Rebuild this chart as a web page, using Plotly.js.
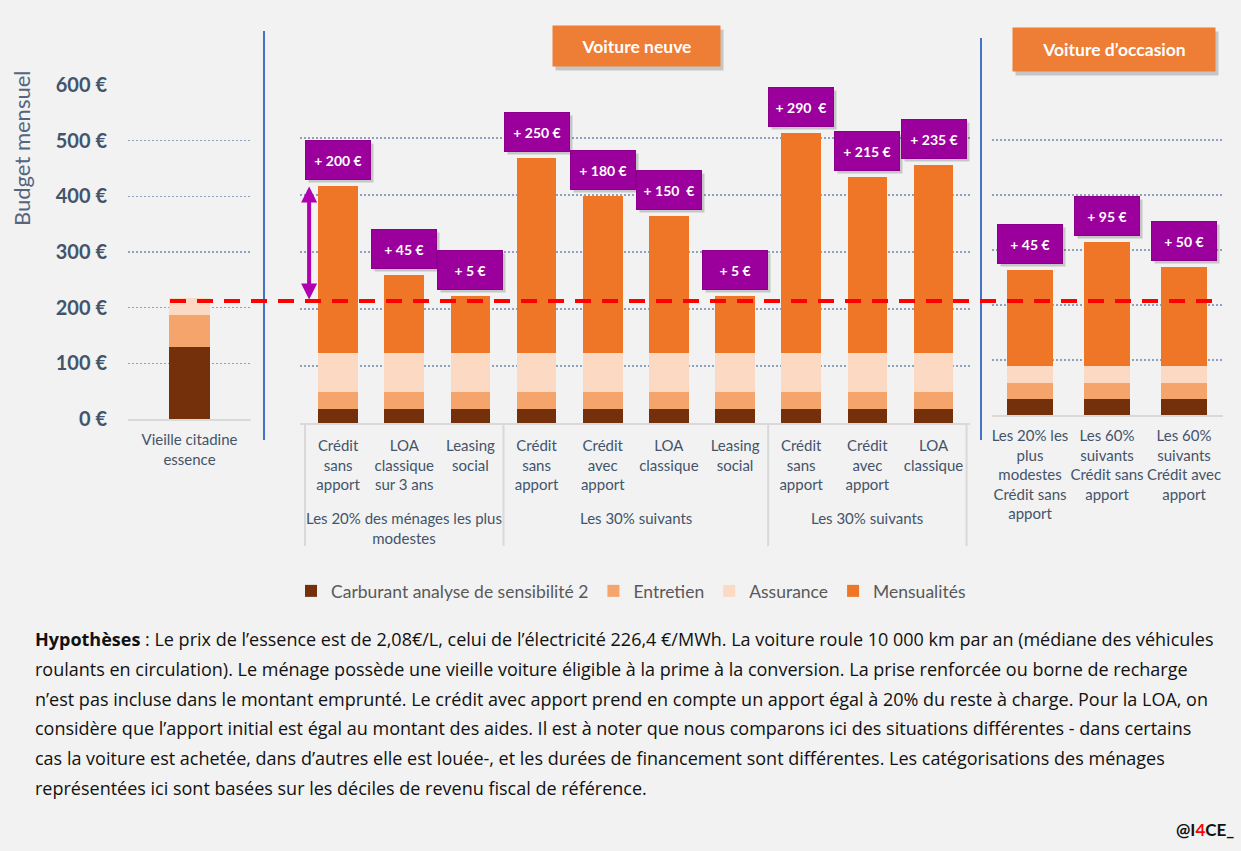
<!DOCTYPE html>
<html>
<head>
<meta charset="utf-8">
<script src="https://cdn.plot.ly/plotly-3.0.1.min.js"></script>
<style>html,body{margin:0;padding:0;background:#f2f2f2;}</style>
</head>
<body>
<div id="chart" style="width:1241px;height:851px;"></div>
<script>
// ---------------- DATA ----------------
const seriesNames = ['Carburant analyse de sensibilité 2', 'Entretien', 'Assurance', 'Mensualités'];

// Panel 1 : old car
const oldCarCategories = ['Vieille citadine<br>essence'];
const oldCarCarburant = [129];
const oldCarEntretien = [57];
const oldCarAssurance = [32];
const oldCarMensualites = [0];

// Panel 2 : new car
const newCarGroupNames = ['Les 20% des ménages les plus<br>modestes', 'Les 30% suivants', 'Les 30% suivants'];
const newCarGroupSizes = [3, 4, 3];
const newCarCategories = [
  'Crédit<br>sans<br>apport', 'LOA<br>classique<br>sur 3 ans', 'Leasing<br>social',
  'Crédit<br>sans<br>apport', 'Crédit<br>avec<br>apport', 'LOA<br>classique', 'Leasing<br>social',
  'Crédit<br>sans<br>apport', 'Crédit<br>avec<br>apport', 'LOA<br>classique'
];
const newCarCarburant = [25, 25, 25, 25, 25, 25, 25, 25, 25, 25];
const newCarEntretien = [30, 30, 30, 30, 30, 30, 30, 30, 30, 30];
const newCarAssurance = [67, 67, 67, 67, 67, 67, 67, 67, 67, 67];
const newCarMensualites = [293, 138, 101, 343, 276, 242, 101, 387, 310, 331];
const newCarGapLabels = ['+ 200 €', '+ 45 €', '+ 5 €', '+ 250 €', '+ 180 €', '+ 150  €', '+ 5 €', '+ 290  €', '+ 215 €', '+ 235 €'];

// Panel 3 : used car
const usedCarCategories = [
  'Les 20% les<br>plus<br>modestes<br>Crédit sans<br>apport',
  'Les 60%<br>suivants<br>Crédit sans<br>apport',
  'Les 60%<br>suivants<br>Crédit avec<br>apport'
];
const usedCarCarburant = [29, 29, 29];
const usedCarEntretien = [29, 29, 29];
const usedCarAssurance = [31, 31, 31];
const usedCarMensualites = [175, 226, 180];
const usedCarGapLabels = ['+ 45 €', '+ 95 €', '+ 50 €'];

const budgetReference = 214;
const yTickValues = [0, 100, 200, 300, 400, 500, 600];
const yTickLabels = ['0 €', '100 €', '200 €', '300 €', '400 €', '500 €', '600 €'];

const headerLabels = ['Voiture neuve', 'Voiture d’occasion'];
const yTitle = 'Budget mensuel';
const hypothesisLines = [
  '<b>Hypothèses</b> : Le prix de l’essence est de 2,08€/L, celui de l’électricité 226,4 €/MWh. La voiture roule 10 000 km par an (médiane des véhicules',
  'roulants en circulation). Le ménage possède une vieille voiture éligible à la prime à la conversion. La prise renforcée ou borne de recharge',
  'n’est pas incluse dans le montant emprunté. Le crédit avec apport prend en compte un apport égal à 20% du reste à charge. Pour la LOA, on',
  'considère que l’apport initial est égal au montant des aides. Il est à noter que nous comparons ici des situations différentes - dans certains',
  'cas la voiture est achetée, dans d’autres elle est louée-, et les durées de financement sont différentes. Les catégorisations des ménages',
  'représentées ici sont basées sur les déciles de revenu fiscal de référence.'
];
const creditText = '<b>@I<span style="color:#ff0000">4</span>CE_</b>';

// ---------------- STYLE ----------------
const FONT = 'Lato, "Open Sans", sans-serif';
const SLATE = '#44546a';
const colors = ['#74300a', '#f5a46c', '#fbd9c2', '#ef7626'];
const purple = '#9c009c';
const W = 1241, H = 851;
const px = v => v / W;
const py = v => 1 - v / H;

// make category labels unique (invisible suffix) so repeated labels stay separate categories
const newCarLabels = newCarCategories.map((c, i) => c + '\u200b'.repeat(i));

const traces = [];
function addPanel(xVals, series, xa, ya, showLeg, width) {
  series.forEach((vals, k) => {
    const t = {
      type: 'bar', x: xVals, y: vals, name: seriesNames[k],
      marker: {color: colors[k]}, xaxis: xa, yaxis: ya,
      legendgroup: 's' + k, showlegend: showLeg, hoverinfo: 'skip'
    };
    if (width) t.width = width;
    traces.push(t);
  });
}
addPanel(oldCarCategories, [oldCarCarburant, oldCarEntretien, oldCarAssurance, oldCarMensualites], 'x', 'y', false, 0.33);
addPanel(newCarLabels, [newCarCarburant, newCarEntretien, newCarAssurance, newCarMensualites], 'x2', 'y2', true, null);
addPanel(usedCarCategories, [usedCarCarburant, usedCarEntretien, usedCarAssurance, usedCarMensualites], 'x3', 'y3', false, null);

const totals = (a, b, c, d) => a.map((v, i) => v + b[i] + c[i] + d[i]);
const newTotals = totals(newCarCarburant, newCarEntretien, newCarAssurance, newCarMensualites);
const usedTotals = totals(usedCarCarburant, usedCarEntretien, usedCarAssurance, usedCarMensualites);

const annotations = [];
const shapes = [];
function callout(xref, yref, i, y, label) {
  annotations.push({xref, yref, x: i, y, xanchor: 'center', yanchor: 'bottom', yshift: 3, xshift: 3, showarrow: false,
    text: '', bgcolor: 'rgba(0,0,0,0.18)', width: 62, height: 36, borderpad: 1});
  annotations.push({xref, yref, x: i, y, xanchor: 'center', yanchor: 'bottom', yshift: 6, showarrow: false,
    text: '<b>' + label + '</b>', bgcolor: purple, bordercolor: '#8a008a', borderwidth: 1,
    font: {family: FONT, size: 14, color: '#ffffff'}, width: 62, height: 36, borderpad: 1});
}
newTotals.forEach((t, i) => callout('x2', 'y2', i, t, newCarGapLabels[i]));
usedTotals.forEach((t, i) => callout('x3', 'y3', i, t, usedCarGapLabels[i]));

// group labels and dividers of the new-car axis
let start = 0;
const dividerLine = {color: '#d9d9d9', width: 2};
shapes.push({type: 'line', xref: 'x2', yref: 'paper', x0: -0.5, x1: -0.5, y0: py(423), y1: py(546), line: dividerLine});
newCarGroupSizes.forEach((n, g) => {
  const end = start + n - 1;
  annotations.push({xref: 'x2', yref: 'paper', x: (start + end) / 2, y: py(507), xanchor: 'center', yanchor: 'top',
    text: newCarGroupNames[g], showarrow: false, font: {family: FONT, size: 15, color: SLATE}});
  shapes.push({type: 'line', xref: 'x2', yref: 'paper', x0: end + 0.5, x1: end + 0.5, y0: py(423), y1: py(546), line: dividerLine});
  start += n;
});

// double arrow from reference to first bar
annotations.push({xref: 'x2', yref: 'y2', axref: 'x2', ayref: 'y2', x: 0, y: newTotals[0], ax: 0, ay: budgetReference,
  xshift: -29, text: '', showarrow: true, arrowside: 'end+start', arrowhead: 2, arrowsize: 0.8,
  arrowwidth: 4, arrowcolor: '#b000b0', standoff: 0, startstandoff: 0});

// headers
const headerBoxes = [[553, 720, 26, 66], [1013, 1215, 28, 71]];
headerLabels.forEach((lab, i) => {
  const b = headerBoxes[i];
  annotations.push({xref: 'paper', yref: 'paper', x: px((b[0] + b[1]) / 2 + 3), y: py((b[2] + b[3]) / 2 + 4),
    xanchor: 'center', yanchor: 'middle',
    text: '', showarrow: false, bgcolor: 'rgba(0,0,0,0.18)', width: b[1] - b[0], height: b[3] - b[2], borderpad: 0});
  annotations.push({xref: 'paper', yref: 'paper', x: px((b[0] + b[1]) / 2), y: py((b[2] + b[3]) / 2),
    xanchor: 'center', yanchor: 'middle',
    text: '<b>' + lab + '</b>', showarrow: false, bgcolor: '#ee7d35', width: b[1] - b[0], height: b[3] - b[2], borderpad: 0,
    font: {family: FONT, size: 17.5, color: '#ffffff'}});
});

// y title
annotations.push({xref: 'paper', yref: 'paper', x: px(22), y: py(149), xanchor: 'center', yanchor: 'middle',
  text: yTitle, textangle: -90, showarrow: false,
  font: {family: FONT, size: 22, color: '#55657e'}});

// hypothesis text
hypothesisLines.forEach((line, i) => {
  annotations.push({xref: 'paper', yref: 'paper', x: px(33), y: py(639 + 29.8 * i), xanchor: 'left', yanchor: 'middle',
    text: line, showarrow: false, align: 'left', font: {family: '"Open Sans", sans-serif', size: 18, color: '#111111'}});
});
annotations.push({xref: 'paper', yref: 'paper', x: px(1236), y: py(829), xanchor: 'right', yanchor: 'middle',
  text: creditText, showarrow: false, font: {family: FONT, size: 17, color: '#111111'}});

shapes.push(
  {type: 'line', xref: 'paper', yref: 'paper', x0: px(264), x1: px(264), y0: py(31), y1: py(440), line: {color: '#4472c4', width: 2}},
  {type: 'line', xref: 'paper', yref: 'paper', x0: px(981), x1: px(981), y0: py(38), y1: py(440), line: {color: '#4472c4', width: 2}},
  {type: 'line', xref: 'paper', yref: 'y2', x0: px(170), x1: px(1222), y0: budgetReference, y1: budgetReference,
    line: {color: '#ff0000', width: 4, dash: '16px,11px'}, layer: 'above'}
);

const gridStyle = {showgrid: true, gridcolor: '#8ea1bd', gridwidth: 1.5, griddash: '2px,2px', zeroline: false,
  range: [0, 600], tickvals: yTickValues, fixedrange: true};
const xStyle = {showline: true, linecolor: '#d9d9d9', linewidth: 2, ticks: '', showgrid: false, zeroline: false,
  tickangle: 0, tickfont: {family: FONT, size: 15, color: SLATE}, fixedrange: true};

const layout = {
  width: W, height: H,
  margin: {l: 0, r: 0, t: 0, b: 0},
  paper_bgcolor: '#f2f2f2', plot_bgcolor: 'rgba(0,0,0,0)',
  barmode: 'stack', bargap: 0.4,
  showlegend: true,
  legend: {orientation: 'h', x: px(631), xanchor: 'center', y: py(591), yanchor: 'middle',
    font: {family: FONT, size: 17.5, color: '#595959'}, traceorder: 'normal', bgcolor: 'rgba(0,0,0,0)'},
  xaxis: Object.assign({}, xStyle, {domain: [px(128), px(251)], anchor: 'y', range: [-0.5, 0.5], ticklabelstandoff: 6}),
  yaxis: Object.assign({}, gridStyle, {domain: [py(419), py(85)], anchor: 'x', showticklabels: true,
    ticktext: yTickLabels, tickfont: {family: FONT, size: 20, color: SLATE, weight: 'bold'}, ticklabelstandoff: 20}),
  xaxis2: Object.assign({}, xStyle, {domain: [px(299.5), px(969.5)], anchor: 'y2', type: 'category', ticklabelstandoff: 8}),
  yaxis2: Object.assign({}, gridStyle, {domain: [py(423), py(81)], anchor: 'x2', showticklabels: false}),
  xaxis3: Object.assign({}, xStyle, {domain: [px(991.5), px(1222.5)], anchor: 'y3', ticklabelstandoff: 6}),
  yaxis3: Object.assign({}, gridStyle, {domain: [py(415), py(85)], anchor: 'x3', showticklabels: false}),
  annotations, shapes,
  font: {family: FONT}
};

Plotly.newPlot('chart', traces, layout, {displayModeBar: false, staticPlot: true});
</script>
</body>
</html>
